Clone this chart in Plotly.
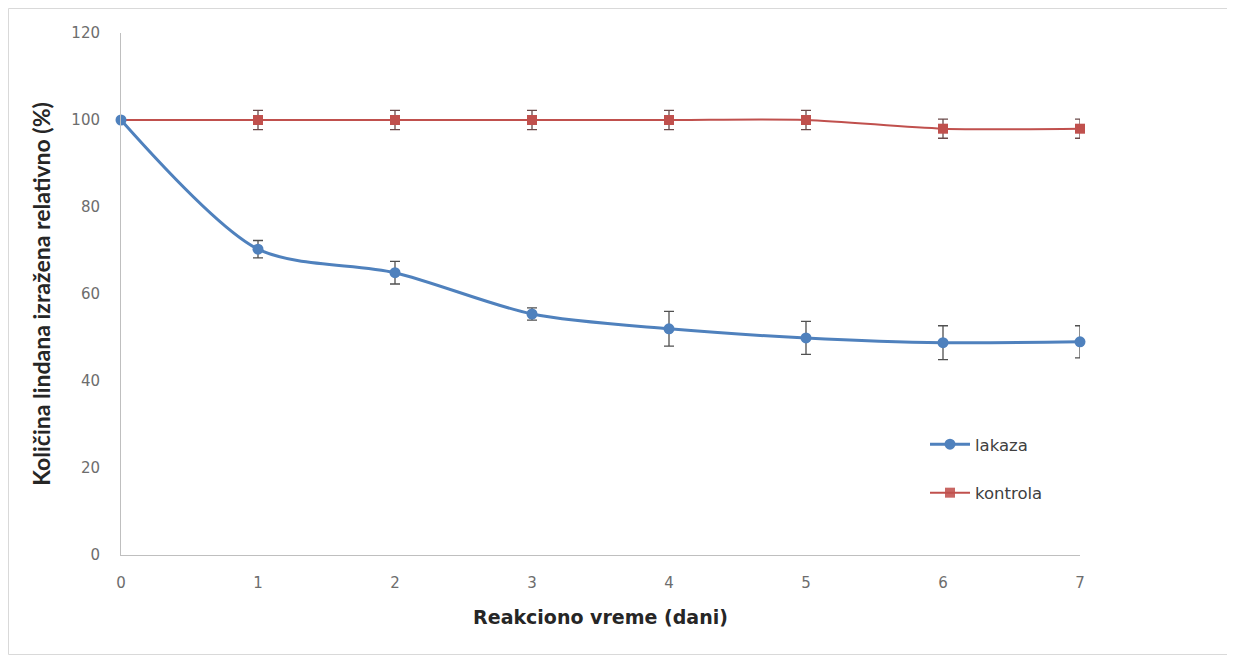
import plotly.graph_objects as go

days = [0, 1, 2, 3, 4, 5, 6, 7]
lakaza = [100, 70.3, 64.9, 55.4, 52.0, 49.9, 48.8, 49.0]
lakaza_err = [0, 2.0, 2.6, 1.4, 4.0, 3.8, 3.9, 3.7]
kontrola = [100, 100, 100, 100, 100, 100, 98, 98]
kontrola_err = [0, 2.2, 2.2, 2.2, 2.2, 2.2, 2.2, 2.2]
y_ticks = [0, 20, 40, 60, 80, 100, 120]
x_ticks = [0, 1, 2, 3, 4, 5, 6, 7]

BLUE = "#4F81BD"
RED = "#C0504D"

fig = go.Figure()

fig.add_trace(go.Scatter(
    x=days, y=kontrola, name="kontrola", mode="lines+markers",
    line=dict(color=RED, width=2, shape="spline", smoothing=0.8),
    marker=dict(symbol="square", size=10, color=RED, opacity=[0] + [1] * 7),
    error_y=dict(type="data", array=kontrola_err, visible=True,
                 color="#6b4a4a", thickness=1.3, width=5),
    legendgroup="b", legendrank=2,
))
fig.add_trace(go.Scatter(
    x=days, y=lakaza, name="lakaza", mode="lines+markers",
    line=dict(color=BLUE, width=3, shape="spline", smoothing=0.8),
    marker=dict(symbol="circle", size=11, color=BLUE),
    error_y=dict(type="data", array=lakaza_err, visible=True,
                 color="#505050", thickness=1.3, width=5),
    legendgroup="a", legendrank=1,
))

# page body has an 8px margin, so the figure sits at (8, 8) in the window
OFF = 8
W, H = 1235 - 2 * OFF, 663 - 2 * OFF
L = 121 - OFF
T = 33 - OFF
R = W - (1080 - OFF)
B = H - (555 - OFF)
pw, ph = W - L - R, H - T - B

def px_x(px):
    return (px - OFF - L) / pw

def px_y(py):
    return (H - B - (py - OFF)) / ph

fig.add_shape(type="rect", xref="paper", yref="paper",
              x0=px_x(8.5), x1=px_x(1228.5), y0=px_y(654.5), y1=px_y(8.5),
              line=dict(color="#d9d9d9", width=1), fillcolor="rgba(0,0,0,0)", layer="below")

fig.update_layout(
    width=W, height=H,
    margin=dict(l=L, r=R, t=T, b=B, pad=0),
    paper_bgcolor="white", plot_bgcolor="white",
    font=dict(family="DejaVu Sans, sans-serif", color="#6d6d6d", size=15),
    showlegend=True,
    legend=dict(x=px_x(925), y=px_y(427), xanchor="left", yanchor="top",
                bgcolor="rgba(0,0,0,0)", font=dict(size=16.5, color="#404040"),
                traceorder="grouped", tracegroupgap=24, itemwidth=40),
    xaxis=dict(range=[0, 7], tickvals=x_ticks, showgrid=False, zeroline=False,
               showline=True, linecolor="#bfbfbf", linewidth=1, ticks="",
               ticklabelstandoff=14,
               tickfont=dict(size=15, color="#6d6d6d"),
               title=dict(text="<b>Reakciono vreme (dani)</b>",
                          font=dict(family="DejaVu Sans, sans-serif", size=19, color="#262626"),
                          standoff=19)),
    yaxis=dict(range=[0, 120], tickvals=y_ticks, showgrid=False, zeroline=False,
               showline=True, linecolor="#bfbfbf", linewidth=1, ticks="",
               ticklabelstandoff=17,
               tickfont=dict(size=15, color="#6d6d6d"),
               title=dict(text="<b>Količina lindana izražena relativno (%)</b>",
                          font=dict(family="Lato, sans-serif", size=23, color="#262626"),
                          standoff=14)),
)
for tr in fig.data:
    tr.cliponaxis = False

fig.write_html("out.html")
